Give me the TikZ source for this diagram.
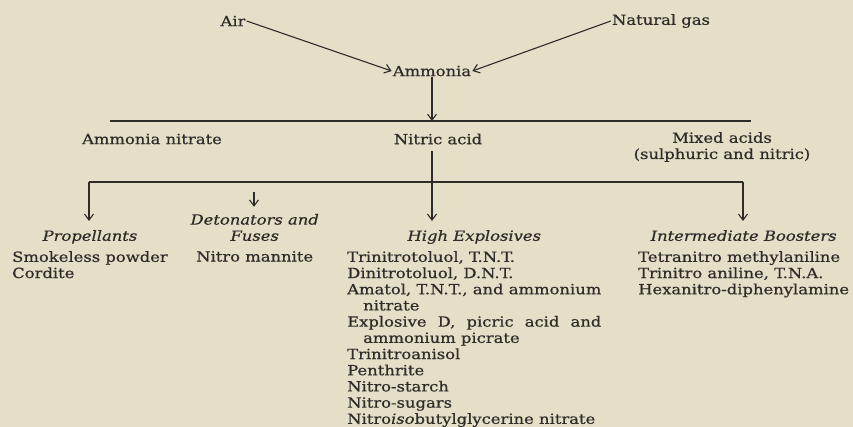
\documentclass[tikz,border=0pt]{standalone}
\usepackage{fontspec}
\setmainfont[FakeStretch=1.17,FakeBold=0.6]{DejaVu Serif}
\usepackage{xcolor}
\usetikzlibrary{arrows.meta,positioning}
\definecolor{paper}{HTML}{E5DFC8}
\definecolor{ink}{HTML}{2E2C29}
\newlength\hexw

\begin{document}
\begin{tikzpicture}[
    x=1pt, y=-1pt,
    item/.style={inner sep=1pt, text=ink, font=\fontsize{14}{16.2}\selectfont},
    head/.style={item, font=\fontsize{14}{16.2}\selectfont\itshape, align=center, text depth=3.5pt},
    list/.style={item, inner sep=0pt, align=left, anchor=north west},
    link/.style={draw=ink, line width=1.1pt},
    arr/.style={link, -{Straight Barb[length=6pt,width=9pt]}},
    node distance=5.5pt
    ]
    \fill[paper] (0,0) rectangle (853,427);
    \useasboundingbox (0,0) rectangle (853,427);

    % raw materials
    \node[item] (air) at (233,21) {Air};
    \node[item] (gas) at (661,21) {Natural gas};
    \node[item] (ammonia) at (432,71) {Ammonia};

    \draw[arr] (air.east) -- (ammonia.west);
    \draw[arr] (gas.west) -- (ammonia.east);

    % first level
    \coordinate (bar1l) at (110,121);
    \coordinate (bar1r) at (751,121);
    \draw[link] (bar1l) -- (bar1r);
    \draw[arr] (ammonia.south) -- (ammonia.south |- bar1l);

    \node[item] (nitrate) at (152,139) {Ammonia nitrate};
    \node[item] (nitric) at (438,139) {Nitric acid};
    \node[item, align=center] (mixed) at (722,147) {Mixed acids\\(sulphuric and nitric)};

    % second level
    \coordinate (bar2l) at (89,182);
    \coordinate (bar2r) at (743,182);
    \coordinate (detx) at (254,182);
    \draw[link] (bar2l) -- (bar2r);
    \draw[link, shorten <=5pt] (ammonia.south |- nitric.south) -- (ammonia.south |- bar2l);

    \node[list] (propl) at (12,251) {Smokeless powder\\Cordite};
    \node[list] (detl) at (196,251) {Nitro mannite};
    \node[list] (highl) at (347,251) {\settowidth{\hexw}{Amatol, T.N.T., and ammonium}\global\hexw=\hexw
        Trinitrotoluol, T.N.T.\\
        Dinitrotoluol, D.N.T.\\
        Amatol, T.N.T., and ammonium\\
        \hspace*{16pt}nitrate\\
        \makebox[\hexw][s]{Explosive D, picric acid and}\\
        \hspace*{16pt}ammonium picrate\\
        Trinitroanisol\\
        Penthrite\\
        Nitro-starch\\
        Nitro-sugars\\
        Nitro\textit{iso}butylglycerine nitrate};
    \node[list] (interl) at (638,251) {Tetranitro methylaniline\\Trinitro aniline, T.N.A.\\Hexanitro-diphenylamine};

    \node[head, above=of propl] (proph) {Propellants};
    \node[head, above=of detl] (deth) {Detonators and\\Fuses};
    \node[head, above=of highl] (highh) {High Explosives};
    \node[head, above=of interl] (interh) {Intermediate Boosters};

    \draw[arr, shorten >=8pt] (bar2l) -- (bar2l |- proph.north);
    \draw[arr, shorten <=10pt, shorten >=6pt] (detx) -- (detx |- deth.north);
    \draw[arr, shorten >=8pt] (ammonia.south |- bar2l) -- (ammonia.south |- highh.north);
    \draw[arr, shorten >=8pt] (bar2r) -- (bar2r |- interh.north);
\end{tikzpicture}
\end{document}
